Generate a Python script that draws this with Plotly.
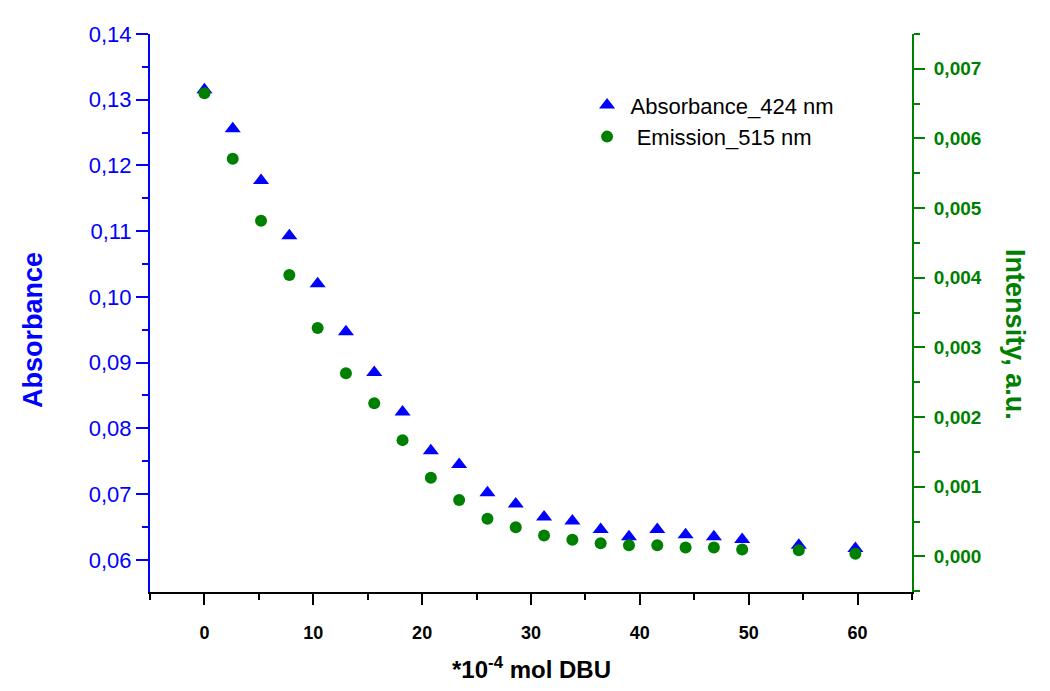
import plotly.graph_objects as go

# DBU amount (x 10^-4 mol)
dbu = [0, 2.6, 5.2, 7.8, 10.4, 13.0, 15.6, 18.2, 20.8, 23.4, 26.0,
       28.6, 31.2, 33.8, 36.4, 39.0, 41.6, 44.2, 46.8, 49.4, 54.6, 59.8]

# Absorbance at 424 nm (left axis)
absorbance_424 = [0.1315, 0.1256, 0.1177, 0.1093, 0.1020, 0.0947, 0.0885,
                  0.0825, 0.0766, 0.0745, 0.0702, 0.0685, 0.0665, 0.0659,
                  0.0646, 0.0635, 0.0646, 0.0638, 0.0635, 0.0631, 0.0622,
                  0.0617]

# Emission intensity at 515 nm (right axis)
emission_515 = [0.00665, 0.00571, 0.00482, 0.00404, 0.00328, 0.00263,
                0.00220, 0.00167, 0.00113, 0.00081, 0.00054, 0.00042,
                0.00030, 0.00024, 0.00019, 0.00016, 0.00016, 0.00013,
                0.00013, 0.00010, 0.00009, 0.00004]

BLUE = "#0000FF"
GREEN = "#008000"
FONT = "Liberation Sans, Arial, sans-serif"

fig = go.Figure()

fig.add_trace(go.Scatter(
    x=dbu, y=absorbance_424, mode="markers",
    name="Absorbance_424 nm", legendgroup="a",
    marker=dict(symbol="triangle-up", size=14, color=BLUE),
    yaxis="y",
))
fig.add_trace(go.Scatter(
    x=dbu, y=emission_515, mode="markers",
    name="\u00a0Emission_515 nm", legendgroup="b",
    marker=dict(symbol="circle", size=12, color=GREEN),
    yaxis="y2",
))

fig.update_layout(
    width=1050, height=691,
    margin=dict(l=150, r=138, t=34, b=99),
    paper_bgcolor="white", plot_bgcolor="white",
    separators=",.",
    font=dict(family=FONT, color="black"),
    xaxis=dict(
        range=[-5, 65], tick0=0, dtick=10,
        showline=True, linecolor="black", linewidth=2,
        ticks="outside", ticklen=11, tickwidth=2, tickcolor="black",
        ticklabelstandoff=12,
        tickfont=dict(family=FONT, size=18, color="black", weight="bold"),
        showgrid=False, zeroline=False,
        minor=dict(ticks="outside", ticklen=6, tickwidth=2,
                   tickcolor="black", dtick=5, tick0=-5, showgrid=False),
    ),
    yaxis=dict(
        range=[0.0551, 0.14], tick0=0, dtick=0.01, tickformat=".2f",
        showline=True, linecolor=BLUE, linewidth=2,
        ticks="outside", ticklen=12, tickwidth=2, tickcolor=BLUE,
        tickfont=dict(family=FONT, size=22, color=BLUE),
        showgrid=False, zeroline=False,
        minor=dict(ticks="outside", ticklen=6, tickwidth=2,
                   tickcolor=BLUE, dtick=0.005, tick0=0, showgrid=False),
    ),
    yaxis2=dict(
        range=[-0.00051, 0.0075], tick0=0, dtick=0.001, tickformat=".3f",
        overlaying="y", side="right", anchor="x",
        showline=True, linecolor=GREEN, linewidth=2,
        ticks="outside", ticklen=11, tickwidth=2, tickcolor=GREEN,
        ticklabelstandoff=5,
        tickfont=dict(family=FONT, size=19, color=GREEN, weight="bold"),
        showgrid=False, zeroline=False,
        minor=dict(ticks="outside", ticklen=6, tickwidth=2,
                   tickcolor=GREEN, dtick=0.0005, tick0=0, showgrid=False),
    ),
    legend=dict(
        x=0.569, y=0.91, xanchor="left", yanchor="top",
        bgcolor="rgba(0,0,0,0)", borderwidth=0,
        font=dict(family=FONT, size=22, color="black"),
        tracegroupgap=0, itemwidth=37,
    ),
    annotations=[
        dict(text="<b>Absorbance</b>", xref="paper", yref="paper",
             x=-0.1535, y=0.4696, xanchor="center", yanchor="middle",
             textangle=-90, showarrow=False,
             font=dict(family=FONT, size=27, color=BLUE)),
        dict(text="<b>Intensity, a.u.</b>", xref="paper", yref="paper",
             x=1.135, y=0.4606, xanchor="center", yanchor="middle",
             textangle=90, showarrow=False,
             font=dict(family=FONT, size=27, color=GREEN)),
        dict(text="<b>*10<sup>-4</sup> mol DBU</b>", xref="paper", yref="paper",
             x=0.5, y=-0.1355, xanchor="center", yanchor="middle",
             showarrow=False,
             font=dict(family=FONT, size=24, color="black")),
    ],
)

fig.write_html("out.html")
